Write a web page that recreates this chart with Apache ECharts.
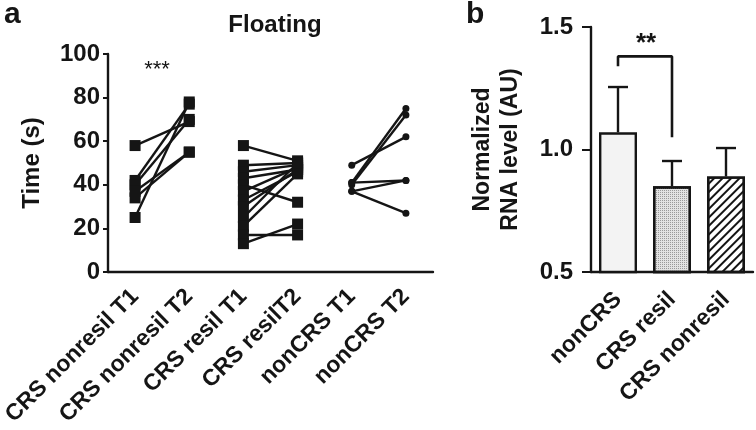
<!DOCTYPE html>
<html>
<head>
<meta charset="utf-8">
<script src="https://cdn.jsdelivr.net/npm/echarts@6/dist/echarts.min.js"></script>
<style>
  html, body { margin: 0; padding: 0; background: #fff; }
  #chart { width: 756px; height: 430px; }
</style>
</head>
<body>
<div id="chart"></div>
<script>
// panel a: floating time, paired T1 -> T2
const catsA = ['CRS nonresil T1', 'CRS nonresil T2', 'CRS resil T1', 'CRS resilT2', 'nonCRS T1', 'nonCRS T2'];
const nonresilT1 = [58, 42, 40, 37, 34, 25];
const nonresilT2 = [69, 77, 70, 55, 55, 78];
const resilT1 = [58, 49, 46, 43, 40, 37, 33, 30, 25, 21, 17, 13];
const resilT2 = [51, 50, 49, 47, 32, 48, 46, 47, 50, 45, 17, 22];
const nonCRST1 = [49, 41, 40, 41, 37, 37];
const nonCRST2 = [62, 75, 72, 42, 42, 27];
const ticksA = [0, 20, 40, 60, 80, 100];

// panel b: RNA level
const catsB = ['nonCRS', 'CRS resil', 'CRS nonresil'];
const rnaMean = [1.07, 0.85, 0.89];
const rnaErrTop = [1.255, 0.953, 1.006];
const bracket = [[0, 1.34], [0, 1.38], [1, 1.38], [1, 1.05]];

const FONT = '"Liberation Sans", Arial, Helvetica, sans-serif';
const INK = '#151515';
const FS = 24;
const CAT_FS = 23;

var chart = echarts.init(document.getElementById('chart'), null, { renderer: 'canvas' });

function pairSeries(t1, t2, i1, i2, symbol, size) {
  let out = [];
  t1.forEach((v, k) => {
    out.push({
      type: 'line',
      xAxisIndex: 0,
      yAxisIndex: 0,
      data: [[i1, v], [i2, t2[k]]],
      symbol: symbol,
      symbolSize: size,
      showSymbol: true,
      lineStyle: { color: INK, width: 2.4 },
      itemStyle: { color: INK, borderWidth: 0 },
      animation: false,
      silent: true,
    });
  });
  return out;
}

let series = [];
series = series.concat(pairSeries(nonresilT1, nonresilT2, 0, 1, 'rect', 11));
series = series.concat(pairSeries(resilT1, resilT2, 2, 3, 'rect', 11));
series = series.concat(pairSeries(nonCRST1, nonCRST2, 4, 5, 'circle', 7));

const barColors = [
  { color: '#f3f3f3' },
  { color: '#e2e2e2', decal: { symbol: 'rect', symbolSize: 1, dashArrayX: [1, 1], dashArrayY: [1, 1], color: '#999999' } },
  { color: '#ffffff', decal: { symbol: 'rect', symbolSize: 1, dashArrayX: [1, 0], dashArrayY: [2, 4], rotation: -Math.PI / 4, color: INK } },
];

series.push({
  type: 'bar',
  xAxisIndex: 1,
  yAxisIndex: 1,
  barWidth: 38,
  data: rnaMean.map((v, i) => ({
    value: v,
    itemStyle: Object.assign({ borderColor: INK, borderWidth: 2.4 }, barColors[i]),
  })),
  animation: false,
});

series.push({
  type: 'custom',
  xAxisIndex: 1,
  yAxisIndex: 1,
  data: rnaMean.map((v, i) => [i, v, rnaErrTop[i]]),
  renderItem: function (params, api) {
    let base = api.coord([api.value(0), api.value(1)]);
    let top = api.coord([api.value(0), api.value(2)]);
    let w = 20;
    return {
      type: 'group',
      children: [
        { type: 'line', shape: { x1: base[0], y1: base[1], x2: top[0], y2: top[1] }, style: { stroke: INK, lineWidth: 2.4 } },
        { type: 'line', shape: { x1: top[0] - w / 2, y1: top[1], x2: top[0] + w / 2, y2: top[1] }, style: { stroke: INK, lineWidth: 2.4 } },
      ],
    };
  },
  animation: false,
});

series.push({
  type: 'line',
  xAxisIndex: 1,
  yAxisIndex: 1,
  data: bracket,
  symbol: 'none',
  lineStyle: { color: INK, width: 2.6 },
  animation: false,
});

let option = {
  animation: false,
  textStyle: { fontFamily: FONT },
  grid: [
    { left: 108, top: 54, width: 325, height: 218, outerBoundsMode: 'none', containLabel: false },
    { left: 591, top: 27, width: 162, height: 245, outerBoundsMode: 'none', containLabel: false },
  ],
  xAxis: [
    {
      gridIndex: 0,
      type: 'category',
      data: catsA,
      boundaryGap: true,
      axisLine: { lineStyle: { color: INK, width: 2.4 } },
      axisTick: { alignWithLabel: true, length: 6, lineStyle: { color: INK, width: 2 } },
      axisLabel: { rotate: 45, interval: 0, margin: 21, color: INK, fontSize: CAT_FS, fontWeight: 'bold', fontFamily: FONT },
    },
    {
      gridIndex: 1,
      type: 'category',
      data: catsB,
      boundaryGap: true,
      axisLine: { lineStyle: { color: INK, width: 2.4 } },
      axisTick: { alignWithLabel: true, length: 9, lineStyle: { color: INK, width: 2 } },
      axisLabel: { rotate: 45, interval: 0, margin: 24, color: INK, fontSize: CAT_FS, fontWeight: 'bold', fontFamily: FONT },
    },
  ],
  yAxis: [
    {
      gridIndex: 0,
      type: 'value',
      min: ticksA[0],
      max: ticksA[ticksA.length - 1],
      interval: 20,
      name: 'Time (s)',
      nameLocation: 'middle',
      nameRotate: 90,
      nameGap: 64,
      nameTextStyle: { color: INK, fontSize: FS, fontWeight: 'bold', fontFamily: FONT },
      splitLine: { show: false },
      axisLine: { show: true, lineStyle: { color: INK, width: 2.4 } },
      axisTick: { show: true, length: 5, lineStyle: { color: INK, width: 2 } },
      axisLabel: { margin: 8, color: INK, fontSize: FS, fontWeight: 'bold', fontFamily: FONT },
    },
    {
      gridIndex: 1,
      type: 'value',
      min: 0.5,
      max: 1.5,
      interval: 0.5,
      name: 'Normalized\nRNA level (AU)',
      nameLocation: 'middle',
      nameRotate: 90,
      nameGap: 66,
      nameTextStyle: { color: INK, fontSize: 23, fontWeight: 'bold', lineHeight: 28, fontFamily: FONT },
      splitLine: { show: false },
      axisLine: { show: true, lineStyle: { color: INK, width: 2.4 } },
      axisTick: { show: true, length: 9, lineStyle: { color: INK, width: 2 } },
      axisLabel: { margin: 18, color: INK, fontSize: FS, fontWeight: 'bold', fontFamily: FONT, formatter: (v) => v.toFixed(1) },
    },
  ],
  graphic: [
    { type: 'text', left: 4, top: 0, style: { text: 'a', font: 'bold 30px ' + FONT, fill: INK } },
    { type: 'text', left: 466, top: 0, style: { text: 'b', font: 'bold 30px ' + FONT, fill: INK } },
    { type: 'text', x: 275, y: 25, style: { text: 'Floating', font: 'bold 24px ' + FONT, fill: INK, align: 'center', verticalAlign: 'middle' } },
    { type: 'text', x: 157, y: 70, style: { text: '***', font: '22px ' + FONT, fill: INK, align: 'center', verticalAlign: 'middle' } },
    { type: 'text', x: 646, y: 44, style: { text: '**', font: 'bold 26px ' + FONT, fill: INK, align: 'center', verticalAlign: 'middle' } },
  ],
  series: series,
};

chart.setOption(option);
</script>
</body>
</html>
